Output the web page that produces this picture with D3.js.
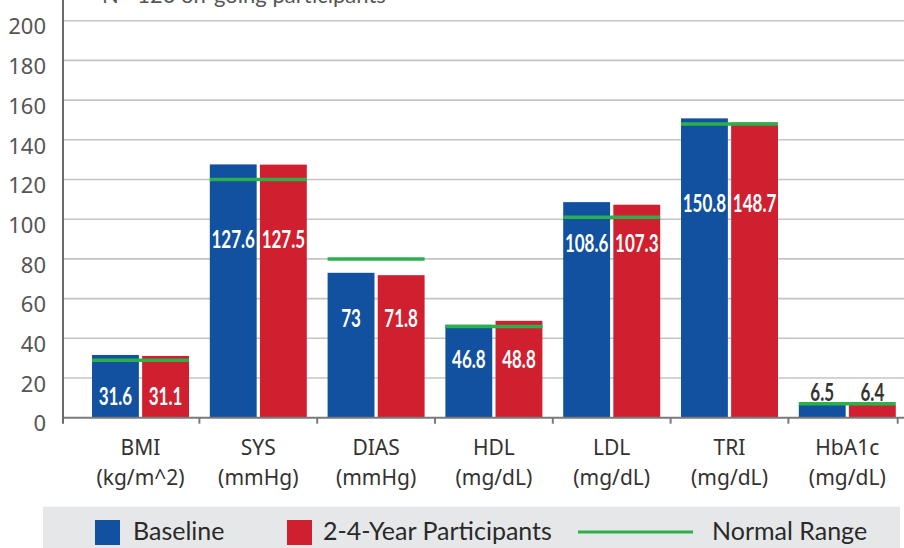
<!DOCTYPE html>
<html>
<head>
<meta charset="utf-8">
<script src="https://cdn.jsdelivr.net/npm/d3@7"></script>
<style>
  html, body { margin: 0; padding: 0; background: #fff; overflow: hidden; }
  svg { display: block; }
</style>
</head>
<body>
<svg id="chart" width="904" height="548"></svg>
<script>
// ---- data ----
const categories = ["BMI", "SYS", "DIAS", "HDL", "LDL", "TRI", "HbA1c"];
const units = ["(kg/m^2)", "(mmHg)", "(mmHg)", "(mg/dL)", "(mg/dL)", "(mg/dL)", "(mg/dL)"];
const seriesNames = ["Baseline", "2-4-Year Participants"];
const baseline = [31.6, 127.6, 73, 46.8, 108.6, 150.8, 6.5];
const followUp = [31.1, 127.5, 71.8, 48.8, 107.3, 148.7, 6.4];
const normalRange = [29, 120, 80, 46, 101, 148, 7];
const yTicks = [0, 20, 40, 60, 80, 100, 120, 140, 160, 180, 200];
const subtitle = "N= 120 on-going participants";
const legendNormal = "Normal Range";

// ---- layout (not data) ----
const labelAt = [11, 90, 50, 29.5, 88, 108, 13]; // value-axis anchor for bar labels
const colors = { Baseline: "#1151a0", "2-4-Year Participants": "#d02030" };
const green = "#2bb14c";

const svg = d3.select("#chart");
const x = d3.scaleBand().domain(categories).range([81.6, 906.2]).paddingInner(0).paddingOuter(0);
const xs = d3.scaleBand().domain(seriesNames).range([10.4, 107.4]).paddingInner(0.065).paddingOuter(0);
const y = d3.scaleLinear().domain([0, 200]).range([417.7, 20.7]);
const axisX0 = 63, axisX1 = 904;

// subtitle (partly above the top edge, as in the source)
svg.append("text").attr("x", 102).attr("y", 3)
  .attr("font-family", "Lato, 'Open Sans', sans-serif").attr("font-size", 22)
  .attr("fill", "#555").text(subtitle);

// gridlines
svg.append("g").selectAll("line").data(yTicks.filter(d => d > 0)).join("line")
  .attr("x1", axisX0).attr("x2", axisX1)
  .attr("y1", d => y(d)).attr("y2", d => y(d))
  .attr("stroke", "#c4c4c4").attr("stroke-width", 1.6);

// y axis labels
const yAxis = d3.axisLeft(y).tickValues(yTicks).tickSize(0).tickPadding(0);
const gy = svg.append("g").attr("transform", `translate(46,0)`).call(yAxis);
gy.select(".domain").remove();
gy.selectAll("text")
  .attr("font-family", "'Noto Sans', Lato, sans-serif").attr("font-size", 22)
  .attr("fill", "#555").attr("dy", "0.6em").attr("dx", 0);

// bars
const groups = svg.append("g").selectAll("g").data(categories).join("g")
  .attr("transform", d => `translate(${x(d)},0)`);

const rows = categories.map((c, i) => [
  { cat: c, s: seriesNames[0], v: baseline[i], i },
  { cat: c, s: seriesNames[1], v: followUp[i], i }
]);

groups.selectAll("rect").data((d, i) => rows[i]).join("rect")
  .attr("x", d => xs(d.s)).attr("width", xs.bandwidth())
  .attr("y", d => y(d.v)).attr("height", d => y(0) - y(d.v))
  .attr("fill", d => colors[d.s]);

// normal range lines
groups.append("line")
  .attr("x1", xs(seriesNames[0])).attr("x2", xs(seriesNames[1]) + xs.bandwidth())
  .attr("y1", (d, i) => y(normalRange[i])).attr("y2", (d, i) => y(normalRange[i]))
  .attr("stroke", green).attr("stroke-width", 3.5);

// bar labels
groups.selectAll("text.val").data((d, i) => rows[i]).join("text")
  .attr("class", "val")
  .attr("transform", d => `translate(${xs(d.s) + xs.bandwidth() / 2},${y(labelAt[d.i])}) scale(0.68,1)`)
  .attr("text-anchor", "middle").attr("dy", "0.36em")
  .attr("font-family", "Lato, sans-serif").attr("font-weight", 700).attr("font-size", 25)
  .attr("fill", d => d.i === categories.length - 1 ? "#333" : "#fff")
  .text(d => d.v);

// x axis line and ticks
svg.append("line").attr("x1", axisX0).attr("x2", axisX1)
  .attr("y1", y(0)).attr("y2", y(0)).attr("stroke", "#7a7a7a").attr("stroke-width", 2);
const bounds = categories.slice(1).map(c => x(c)).concat([x.range()[1] - 8.5]);
svg.append("g").selectAll("line").data(bounds).join("line")
  .attr("x1", d => d).attr("x2", d => d).attr("y1", y(0)).attr("y2", y(0) + 6)
  .attr("stroke", "#7a7a7a").attr("stroke-width", 2);
// y axis line
svg.append("line").attr("x1", axisX0).attr("x2", axisX0).attr("y1", 0).attr("y2", y(0) + 6)
  .attr("stroke", "#6a6a6a").attr("stroke-width", 2);

// category labels
const xl = svg.append("g").selectAll("text").data(categories).join("text")
  .attr("text-anchor", "middle")
  .attr("font-family", "'Noto Sans', 'Open Sans', sans-serif").attr("font-size", 21).attr("fill", "#333");
xl.append("tspan").attr("x", d => x(d) + x.bandwidth() / 2).attr("y", 455).text(d => d);
xl.append("tspan").attr("x", d => x(d) + x.bandwidth() / 2).attr("y", 485).text((d, i) => units[i]);

// legend
const lg = svg.append("g");
lg.append("rect").attr("x", 43).attr("y", 506.7).attr("width", 857).attr("height", 45).attr("fill", "#e6e7e8");
const lf = { "font-family": "Lato, 'Open Sans', sans-serif", "font-size": 25, fill: "#2a2a2a" };
const items = [
  { name: seriesNames[0], sx: 95, tx: 133 },
  { name: seriesNames[1], sx: 287, tx: 323 }
];
items.forEach(it => {
  lg.append("rect").attr("x", it.sx).attr("y", 520).attr("width", 25).attr("height", 25).attr("fill", colors[it.name]);
  const t = lg.append("text").attr("x", it.tx).attr("y", 540).text(it.name);
  Object.entries(lf).forEach(([k, v]) => t.attr(k, v));
});
lg.append("line").attr("x1", 578).attr("x2", 693).attr("y1", 532).attr("y2", 532)
  .attr("stroke", green).attr("stroke-width", 3);
const tn = lg.append("text").attr("x", 712).attr("y", 540).text(legendNormal);
Object.entries(lf).forEach(([k, v]) => tn.attr(k, v));
</script>
</body>
</html>
